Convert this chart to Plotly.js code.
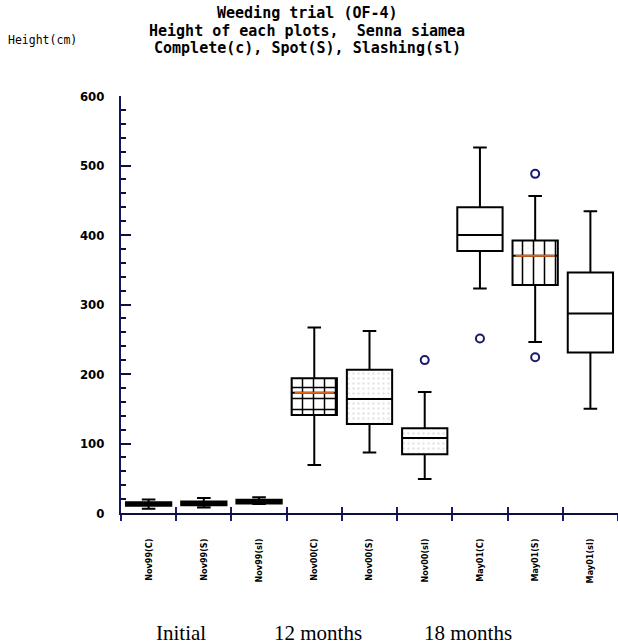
<!DOCTYPE html>
<html>
<head>
<meta charset="utf-8">
<script src="https://cdn.plot.ly/plotly-3.0.1.min.js"></script>
<style>
  html, body { margin: 0; padding: 0; background: #ffffff; }
  #chart { width: 618px; height: 644px; }
</style>
</head>
<body>
<div id="chart"></div>
<script>
// ---- data ----
const categories = ['Nov99(C)', 'Nov99(S)', 'Nov99(sl)', 'Nov00(C)', 'Nov00(S)', 'Nov00(sl)', 'May01(C)', 'May01(S)', 'May01(sl)'];
const lowerFence = [6, 8, 12.8, 69, 87, 49, 323, 246, 150];
const q1Values   = [10.5, 11.3, 13.8, 141, 128, 84.5, 377, 328, 231];
const medians    = [13, 14, 16.5, 173, 164, 108, 400, 370, 287];
const q3Values   = [15.5, 16.5, 19, 194, 206, 122, 440, 392, 346];
const upperFence = [19.5, 21.5, 22.6, 267, 262, 174, 526, 456, 434];

const outlierCats = ['Nov00(sl)', 'May01(C)', 'May01(S)', 'May01(S)'];
const outlierVals = [220, 251, 488, 224];

const gridFilledCats   = ['Nov00(C)'];
const stripeFilledCats = ['May01(S)'];
const dottedCats       = ['Nov00(S)', 'Nov00(sl)'];
const orangeMedianCats = ['Nov00(C)', 'May01(S)'];

const titleLines   = ['Weeding trial (OF-4)', 'Height of each plots,  Senna siamea', 'Complete(c), Spot(S), Slashing(sl)'];
const yAxisLabel   = 'Height(cm)';
const periodLabels = ['Initial', '12 months', '18 months'];

// ---- helpers ----
const idx = c => categories.indexOf(c);
const navy = '#1a1a6e';
const boxW = 0.82;

function patternBar(cats, shape, size, solidity, fg) {
  return {
    type: 'bar',
    x: cats,
    base: cats.map(c => q1Values[idx(c)]),
    y: cats.map(c => q3Values[idx(c)] - q1Values[idx(c)]),
    width: boxW,
    marker: {
      color: '#ffffff',
      line: { width: 0 },
      pattern: { shape: shape, size: size, solidity: solidity, fgcolor: fg, bgcolor: '#ffffff' }
    },
    hoverinfo: 'skip',
    showlegend: false
  };
}

const traces = [
  patternBar(gridFilledCats, '+', 11, 0.25, '#000000'),
  patternBar(stripeFilledCats, '|', 11, 0.14, '#000000'),
  patternBar(dottedCats, '.', 5, 0.18, '#e4e4e4'),
  {
    type: 'box',
    x: categories,
    q1: q1Values,
    median: medians,
    q3: q3Values,
    lowerfence: lowerFence,
    upperfence: upperFence,
    width: boxW,
    whiskerwidth: 0.3,
    boxpoints: false,
    line: { color: '#000000', width: 2 },
    fillcolor: 'rgba(0,0,0,0)',
    showlegend: false
  },
  {
    type: 'scatter',
    mode: 'markers',
    x: outlierCats,
    y: outlierVals,
    marker: { symbol: 'circle-open', size: 8, color: navy, line: { width: 2, color: navy } },
    showlegend: false
  },
  {
    type: 'scatter',
    mode: 'markers',
    xaxis: 'x2',
    x: orangeMedianCats,
    y: orangeMedianCats.map(c => medians[idx(c)]),
    marker: { symbol: 'line-ew', size: 28, line: { width: 2, color: '#e0661e' } },
    showlegend: false
  }
];

const annotations = [];
const titleY = [1.200, 1.157, 1.114];
titleLines.forEach((t, i) => annotations.push({
  text: t, xref: 'paper', yref: 'paper', x: 0.375, y: titleY[i],
  xanchor: 'center', yanchor: 'middle', showarrow: false,
  font: { family: 'DejaVu Sans Mono, monospace', size: 15, color: '#000000', weight: 'bold' }
}));
annotations.push({
  text: yAxisLabel, xref: 'paper', yref: 'paper', x: -0.232, y: 1.134,
  xanchor: 'left', yanchor: 'middle', showarrow: false,
  font: { family: 'DejaVu Sans Mono, monospace', size: 11.5, color: '#000000' }
});
const periodX = [0.12, 0.396, 0.699];
periodLabels.forEach((t, i) => annotations.push({
  text: t, xref: 'paper', yref: 'paper', x: periodX[i], y: -0.288,
  xanchor: 'center', yanchor: 'middle', showarrow: false,
  font: { family: 'Liberation Serif, DejaVu Serif, serif', size: 21, color: '#000000' }
}));

const layout = {
  width: 618, height: 644,
  margin: { l: 121, r: 0, t: 96, b: 131 },
  paper_bgcolor: '#ffffff', plot_bgcolor: '#ffffff',
  barmode: 'overlay',
  showlegend: false,
  font: { family: 'Liberation Sans, Arial, sans-serif', color: '#000000' },
  xaxis: {
    type: 'category', categoryorder: 'array', categoryarray: categories,
    range: [-0.5, 8.5], tickson: 'boundaries',
    ticks: 'outside', ticklen: 6, tickwidth: 2, tickcolor: navy,
    showline: true, linecolor: '#101040', linewidth: 2,
    showgrid: false, zeroline: false,
    tickangle: -90, ticklabelstandoff: 20,
    tickfont: { family: 'Liberation Sans Narrow, DejaVu Sans Condensed, sans-serif', size: 9, color: '#000000', weight: 'bold' }
  },
  xaxis2: {
    type: 'category', categoryorder: 'array', categoryarray: categories,
    overlaying: 'x', anchor: 'y', side: 'bottom',
    range: [-0.5, 8.5], tickson: 'boundaries',
    ticks: 'inside', ticklen: 6, tickwidth: 2, tickcolor: navy,
    showticklabels: false, showline: false, showgrid: false, zeroline: false
  },
  yaxis: {
    range: [0, 600], dtick: 100, tick0: 0,
    ticks: 'inside', ticklen: 10, tickwidth: 2, tickcolor: '#101040',
    minor: { dtick: 20, ticks: 'inside', ticklen: 5, tickwidth: 2, tickcolor: '#101040' },
    showline: true, linecolor: '#15155a', linewidth: 2,
    showgrid: false, zeroline: false,
    ticklabelstandoff: 12,
    tickfont: { family: 'Liberation Sans Narrow, DejaVu Sans Condensed, sans-serif', size: 13, color: '#000000', weight: 'bold' }
  },
  annotations: annotations
};

Plotly.newPlot('chart', traces, layout, { staticPlot: true, displayModeBar: false });
</script>
</body>
</html>
